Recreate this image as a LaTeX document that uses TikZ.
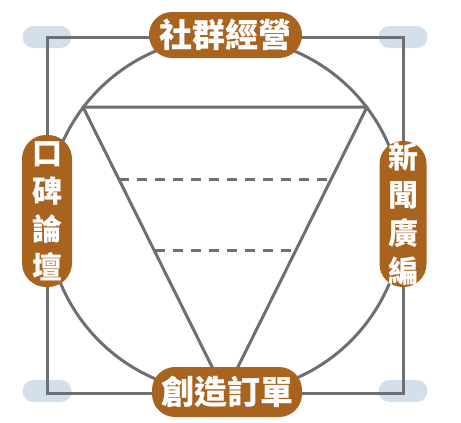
\documentclass[tikz,border=0pt]{standalone}
\usepackage{fontspec}
\usepackage{xcolor}
\newfontfamily\cjk{Noto Sans CJK TC}
\definecolor{frame}{HTML}{6E6F72}
\definecolor{bark}{HTML}{A8641F}
\definecolor{mist}{HTML}{D3DFEA}

\begin{document}
\begin{tikzpicture}[x=1pt,y=-1pt]
\tikzstyle{every node}+=[inner sep=0pt]
\tikzstyle{pill}=[fill=bark, text=white, rounded corners=23pt, font=\cjk\bfseries\fontsize{33}{40}\selectfont]
\tikzstyle{tall}=[pill, align=center, font=\cjk\bfseries\fontsize{30}{38}\selectfont]
\tikzstyle{dot}=[fill=mist, rounded corners=11pt, minimum width=49pt, minimum height=22pt]
\tikzstyle{rim}=[frame, line width=3pt]
\useasboundingbox (0,0) rectangle (461,423);
\node [dot] (tl) at (47,37) {};
\node [dot] (tr) at (403,37) {};
\node [dot] (bl) at (47,391) {};
\node [dot] (br) at (403,391) {};
\coordinate (ctl) at (47,37);
\coordinate (ctr) at (403,37);
\coordinate (cbl) at (47,393);
\coordinate (cbr) at (403,393);
\draw [rim] (ctl) -- (ctr) -- (cbr) -- (cbl) -- cycle;
\draw [rim] (225,215) circle (178);
\coordinate (ta) at (83,107);
\coordinate (tb) at (367,107);
\coordinate (tc) at (225,393);
\draw [rim, line join=round] (ta) -- (tb) -- (tc) -- cycle;
\coordinate (da) at (119,179);
\coordinate (db) at (331,179);
\coordinate (dc) at (155,250);
\coordinate (dd) at (295,250);
\draw [rim, dash pattern=on 10pt off 8pt] (da) -- (db);
\draw [rim, dash pattern=on 10pt off 8pt] (dc) -- (dd);
\node [pill, minimum width=153pt, minimum height=46pt] (top) at (225.5,35) {社群經營};
\node [pill, minimum width=150pt, minimum height=50pt] (bottom) at (227,392) {創造訂單};
\node [tall, minimum width=50pt, minimum height=152pt, rounded corners=24pt] (left) at (47,211) {口\\碑\\論\\壇};
\node [tall, minimum width=47pt, minimum height=146pt] (right) at (403,214) {新\\聞\\廣\\編};
\end{tikzpicture}
\end{document}
